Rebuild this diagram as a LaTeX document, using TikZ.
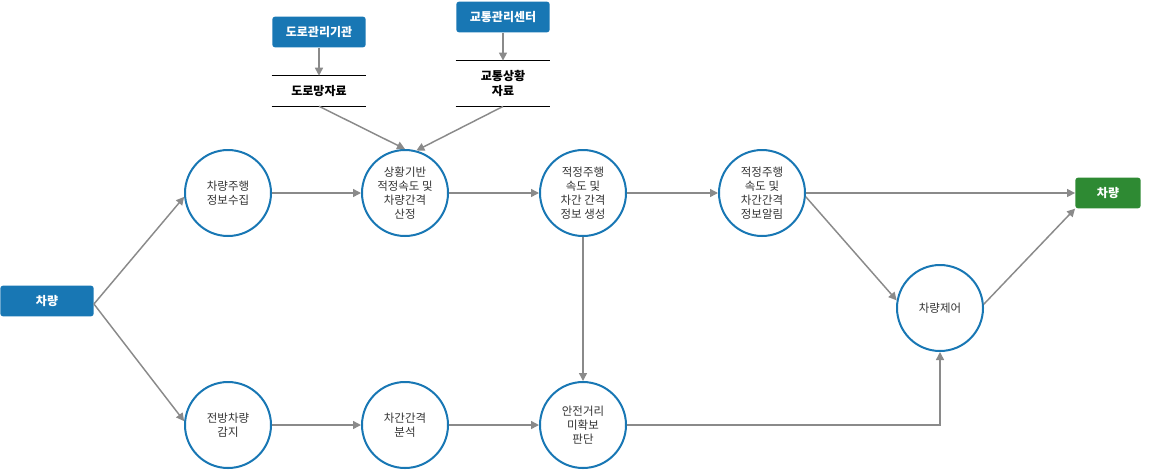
\documentclass[tikz,border=0pt]{standalone}
\usepackage{fontspec}
\setmainfont{Noto Sans CJK KR}
\usetikzlibrary{arrows.meta}
\definecolor{cblue}{HTML}{1877B4}
\definecolor{cgreen}{HTML}{2E8A33}
\definecolor{cgray}{HTML}{8A8A8A}
\definecolor{ctext}{HTML}{333333}
\begin{document}
\begin{tikzpicture}[x=0.75pt,y=-0.75pt,
  circ/.style={circle,draw=cblue,line width=1.5pt,minimum size=64.5pt,inner sep=0pt,align=center,font=\fontsize{8.6pt}{10.5pt}\selectfont,text=ctext,fill=white},
  tagbox/.style={fill=cblue,rounded corners=2pt,text=white,font=\bfseries\fontsize{9pt}{11pt}\selectfont,inner sep=0pt,minimum height=23pt},
  store/.style={align=center,font=\bfseries\fontsize{9pt}{11pt}\selectfont,inner sep=0pt,minimum width=70.5pt},
  arr/.style={draw=cgray,line width=1.1pt,-{Triangle[length=6pt,width=6pt]}}]
\useasboundingbox (0,0) rectangle (1170,469);
\node[tagbox,minimum width=70pt] (carL) at (47,301) {차량};
\node[tagbox,fill=cgreen,minimum width=49pt] (carR) at (1108,193) {차량};
\node[tagbox,minimum width=70pt] (org1) at (319,32) {도로관리기관};
\node[tagbox,minimum width=70pt] (org2) at (503,17) {교통관리센터};
\node[store,minimum height=22.5pt] (s1) at (319,91) {도로망자료};
\draw[line width=1.1pt] (s1.north west)--(s1.north east) (s1.south west)--(s1.south east);
\node[store,minimum height=34pt] (s2) at (503,83.5) {교통상황\\자료};
\draw[line width=1.1pt] (s2.north west)--(s2.north east) (s2.south west)--(s2.south east);
\node[circ] (c1) at (228,193) {차량주행\\정보수집};
\node[circ] (c2) at (405,193) {상황기반\\적정속도 및\\차량간격\\산정};
\node[circ] (c3) at (583,193) {적정주행\\속도 및\\차간 간격\\정보 생성};
\node[circ] (c4) at (762,193) {적정주행\\속도 및\\차간간격\\정보알림};
\node[circ] (ctl) at (940,308) {차량제어};
\node[circ] (b1) at (228,425) {전방차량\\감지};
\node[circ] (b2) at (405,425) {차간간격\\분석};
\node[circ] (b3) at (583,425) {안전거리\\미확보\\판단};
\coordinate (cl) at ([yshift=-2.25pt]carL.east);
\draw[arr] (org1)--(s1.north);
\draw[arr] (org2)--(s2.north);
\draw[arr] (s1.south)--(c2.north);
\draw[arr] (s2.south)--(c2.75);
\draw[arr] (cl)--(c1.185);
\draw[arr] (cl)--(b1.175);
\draw[arr] (c1)--(c2);
\draw[arr] (c2)--(c3);
\draw[arr] (c3)--(c4);
\draw[arr] (c4)--(carR);
\draw[arr] (c4.355)--(ctl.170);
\draw[arr] (ctl.5)--(carR.south west);
\draw[arr] (b1)--(b2);
\draw[arr] (b2)--(b3);
\draw[arr] (c3)--(b3);
\draw[arr] (b3.east)--(ctl.south|-b3.east)--(ctl.south);
\end{tikzpicture}
\end{document}
